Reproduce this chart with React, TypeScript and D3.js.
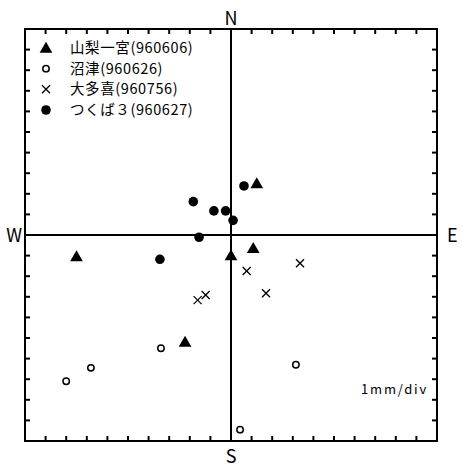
import React from 'react';
import * as d3 from 'd3';

// displacement in mm (east +, north +)
const yamanashi = [[1.25, 2.5], [1.08, -0.65], [0, -1.0], [-7.5, -1.05], [-2.23, -5.2]];
const numazu = [[-8.0, -7.1], [-6.8, -6.45], [-3.4, -5.5], [3.15, -6.3], [0.44, -9.45]];
const otaki = [[3.35, -1.37], [0.76, -1.75], [1.7, -2.83], [-1.23, -2.91], [-1.62, -3.16]];
const tsukuba = [[0.63, 2.38], [-1.83, 1.62], [-0.83, 1.17], [-0.26, 1.17], [0.1, 0.71], [-1.55, -0.11], [-3.45, -1.18]];

const legendLabels = ['山梨一宮(960606)', '沼津(960626)', '大多喜(960756)', 'つくば３(960627)'];
const directions = ['N', 'E', 'S', 'W'];

const font = '"Noto Sans CJK JP", "DejaVu Sans", sans-serif';

const Marker = ({ kind, cx, cy }: { kind: number; cx: number; cy: number }) => {
  if (kind === 0) {
    const tri = d3.symbol(d3.symbolTriangle, 70)();
    return <path d={tri || ''} transform={`translate(${cx},${cy + 1})`} fill="#000" />;
  }
  if (kind === 1) return <circle cx={cx} cy={cy} r={3.2} fill="#fff" stroke="#000" strokeWidth={1.5} />;
  if (kind === 2) {
    const s = 4;
    return (
      <g stroke="#000" strokeWidth={1.3}>
        <line x1={cx - s} y1={cy - s} x2={cx + s} y2={cy + s} />
        <line x1={cx - s} y1={cy + s} x2={cx + s} y2={cy - s} />
      </g>
    );
  }
  return <circle cx={cx} cy={cy} r={4.8} fill="#000" />;
};

export default function App() {
  const W = 463, H = 467;
  const x = d3.scaleLinear().domain([-10, 10]).range([25, 437]);
  const y = d3.scaleLinear().domain([-10, 10]).range([441, 29]);
  const ticks = x.ticks(20);
  const tl = 5;
  const series = [yamanashi, numazu, otaki, tsukuba];
  const legendY = d3.scalePoint<number>().domain([0, 1, 2, 3]).range([48, 110]);

  return (
    <svg width={W} height={H} style={{ position: 'absolute', left: 0, top: 0, background: '#fff' }}>
      <rect x={x(-10)} y={y(10)} width={x(10) - x(-10)} height={y(-10) - y(10)} fill="#fff" stroke="#000" strokeWidth={2} />
      <line x1={x(0)} x2={x(0)} y1={y(10)} y2={y(-10)} stroke="#000" strokeWidth={2} />
      <line x1={x(-10)} x2={x(10)} y1={y(0)} y2={y(0)} stroke="#000" strokeWidth={2} />
      <g stroke="#000" strokeWidth={2}>
        {ticks.filter(t => t > -10 && t < 10).map(t => (
          <g key={t}>
            <line x1={x(t)} x2={x(t)} y1={y(10)} y2={y(10) + tl} />
            <line x1={x(t)} x2={x(t)} y1={y(-10)} y2={y(-10) - tl} />
            <line x1={x(-10)} x2={x(-10) + tl} y1={y(t)} y2={y(t)} />
            <line x1={x(10)} x2={x(10) - tl} y1={y(t)} y2={y(t)} />
          </g>
        ))}
      </g>
      <g fontFamily={font} fontSize={18} fill="#000">
        <text x={x(0)} y={y(10) - 4} textAnchor="middle">{directions[0]}</text>
        <text x={x(10) + 10} y={y(0) + 7}>{directions[1]}</text>
        <text x={x(0)} y={y(-10) + 22} textAnchor="middle">{directions[2]}</text>
        <text x={x(-10) - 3} y={y(0) + 7} textAnchor="end">{directions[3]}</text>
      </g>
      {series.map((pts, i) => (
        <g key={i}>
          {pts.map((p, j) => <Marker key={j} kind={i} cx={x(p[0])} cy={y(p[1])} />)}
        </g>
      ))}
      <g fontFamily={font} fontSize={14.5} fill="#000">
        {legendLabels.map((l, i) => (
          <g key={i}>
            <Marker kind={i} cx={46} cy={legendY(i)!} />
            <text x={70} y={legendY(i)! + 5} letterSpacing={0.6}>{l}</text>
          </g>
        ))}
        <text x={x(10) - 9} y={y(-7.5) + 4} textAnchor="end" fontSize={13} letterSpacing={1.8}>1mm/div</text>
      </g>
    </svg>
  );
}
